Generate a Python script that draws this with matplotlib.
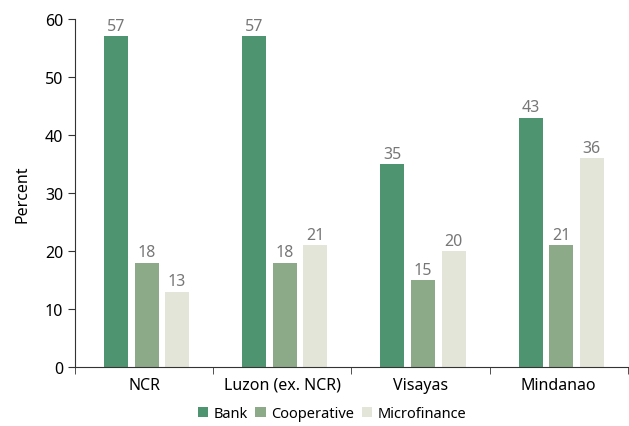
import numpy as np
import matplotlib.pyplot as plt

plt.rcParams['font.family'] = ['Noto Sans', 'DejaVu Sans']

regions = ['NCR', 'Luzon (ex. NCR)', 'Visayas', 'Mindanao']
series = ['Bank', 'Cooperative', 'Microfinance']
bank = [57, 57, 35, 43]
coop = [18, 18, 15, 21]
micro = [13, 21, 20, 36]
colors = ['#4f9470', '#8caa88', '#e3e5d8']

fig = plt.figure(figsize=(6.29, 4.27), dpi=100)
ax = fig.add_axes([0.1192, 0.138, 0.879, 0.815])

x = np.arange(len(regions))
width = 0.174
step = 0.221
for i, (name, vals) in enumerate(zip(series, [bank, coop, micro])):
    pos = x + (i - 1) * step + 0.018
    ax.bar(pos, vals, width, color=colors[i], label=name)
    for p, v in zip(pos, vals):
        ax.text(p, v + 0.4, str(v), ha='center', va='bottom', fontsize=11.5, color='#777777')

ax.set_xlim(-0.5, len(regions) - 0.5)
ax.set_ylim(0, 60)
ax.set_yticks(range(0, 61, 10))
ax.set_ylabel('Percent', fontsize=11.5, labelpad=10)
ax.set_xticks(x)
ax.set_xticklabels(regions, fontsize=11.5)
ax.tick_params(axis='x', which='major', length=0, pad=7)
ax.set_xticks(np.arange(-0.5, len(regions), 1), minor=True)
ax.tick_params(axis='x', which='minor', length=5, color='#333333')
ax.tick_params(axis='y', labelsize=11.5, length=5, color='#333333')
for s in ['top', 'right']:
    ax.spines[s].set_visible(False)
ax.spines['left'].set_color('#333333')
ax.spines['bottom'].set_color('#333333')

ax.legend(loc='upper center', bbox_to_anchor=(0.465, -0.075), ncol=3, frameon=False,
          fontsize=10.5, handlelength=0.7, handleheight=0.7, handletextpad=0.4, columnspacing=0.5)

fig.savefig('out.png', dpi=100)
